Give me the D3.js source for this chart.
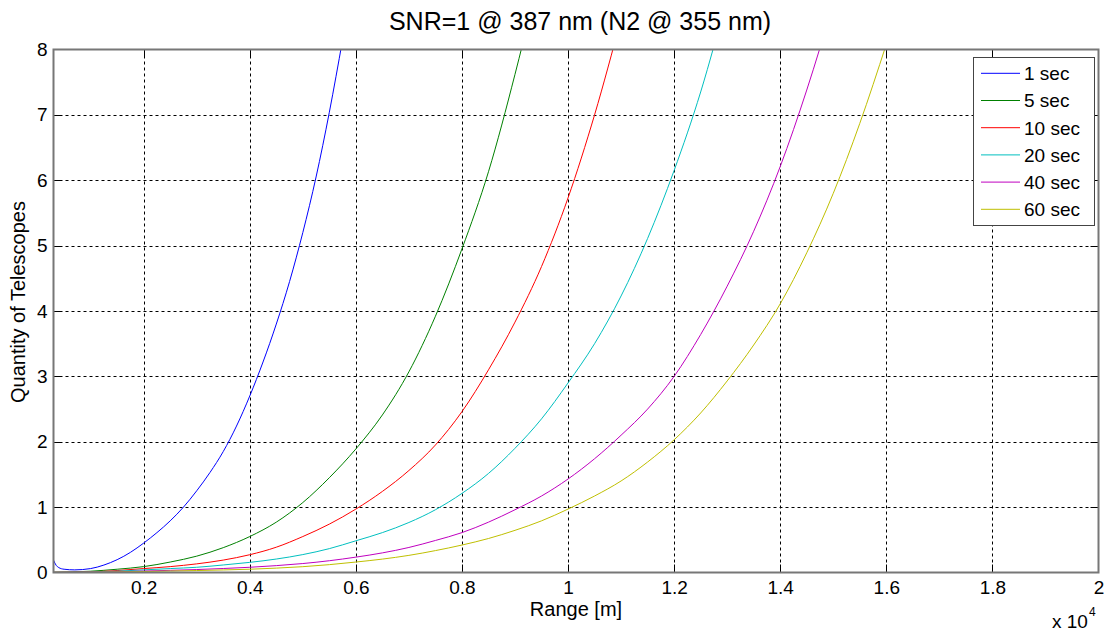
<!DOCTYPE html>
<html>
<head>
<meta charset="utf-8">
<script src="https://cdn.jsdelivr.net/npm/d3@7/dist/d3.min.js"></script>
<style>
  body { margin: 0; background: #fff; }
  text { font-family: "Liberation Sans", Arial, sans-serif; fill: #000; }
</style>
</head>
<body>
<svg width="1105" height="631"></svg>
<script>
// readings: [range in m, quantity of telescopes]
const sec1 = [[300, 0.19], [350, 0.11], [400, 0.075], [500, 0.05], [700, 0.04], [1000, 0.06],
  [1250, 0.114], [1500, 0.196], [1750, 0.308], [2000, 0.45], [2250, 0.61], [2500, 0.79],
  [2750, 1.0], [3000, 1.25], [3250, 1.53], [3500, 1.85], [3750, 2.24], [4000, 2.7],
  [4250, 3.22], [4500, 3.8], [4750, 4.45], [5000, 5.2], [5250, 6.05], [5500, 7.04],
  [5750, 8.15]];
const sec5 = [[300, 0.004], [1000, 0.02], [1500, 0.05], [2000, 0.09], [2500, 0.16],
  [3000, 0.25], [3500, 0.38], [4000, 0.55], [4500, 0.77], [5000, 1.07], [5500, 1.45],
  [6000, 1.89], [6500, 2.41], [7000, 3.07], [7500, 3.92], [8000, 4.95], [8500, 6.13],
  [9000, 7.62], [9300, 8.6]];
const sec10 = [[300, 0.003], [1000, 0.01], [1500, 0.03], [2000, 0.06], [2500, 0.09],
  [3000, 0.132], [3500, 0.19], [4000, 0.272], [4500, 0.387], [5000, 0.55], [5500, 0.74],
  [6000, 0.97], [6500, 1.24], [7000, 1.56], [7500, 1.95], [8000, 2.46], [8500, 3.1],
  [9000, 3.83], [9500, 4.68], [10000, 5.73], [10500, 7.0], [11000, 8.47]];
const sec20 = [[300, 0.002], [1000, 0.008], [1500, 0.02], [2000, 0.04], [2500, 0.06],
  [3000, 0.08], [3500, 0.115], [4000, 0.155], [4500, 0.206], [5000, 0.274], [5500, 0.365],
  [6000, 0.485], [6500, 0.61], [7000, 0.765], [7500, 0.96], [8000, 1.21], [8500, 1.515],
  [9000, 1.9], [9500, 2.35], [10000, 2.9], [10500, 3.5], [11000, 4.23], [11500, 5.11],
  [12000, 6.15], [12500, 7.35], [13000, 8.8]];
const sec40 = [[300, 0.001], [1000, 0.005], [1500, 0.012], [2000, 0.022], [2500, 0.033],
  [3000, 0.045], [3500, 0.061], [4000, 0.08], [4500, 0.105], [5000, 0.137], [5500, 0.18],
  [6000, 0.235], [6500, 0.3], [7000, 0.383], [7500, 0.49], [8000, 0.61], [8500, 0.77],
  [9000, 0.96], [9500, 1.17], [10000, 1.43], [10500, 1.74], [11000, 2.1], [11500, 2.5],
  [12000, 3.0], [12500, 3.64], [13000, 4.38], [13500, 5.22], [14000, 6.21], [14500, 7.38],
  [15000, 8.7]];
const sec60 = [[300, 0.001], [1000, 0.004], [1500, 0.009], [2000, 0.015], [2500, 0.022],
  [3000, 0.03], [3500, 0.039], [4000, 0.05], [4500, 0.067], [5000, 0.089], [5500, 0.12],
  [6000, 0.16], [6500, 0.205], [7000, 0.262], [7500, 0.335], [8000, 0.42], [8500, 0.52],
  [9000, 0.645], [9500, 0.79], [10000, 0.97], [10500, 1.17], [11000, 1.4], [11500, 1.69],
  [12000, 2.03], [12500, 2.44], [13000, 2.93], [13500, 3.48], [14000, 4.11], [14500, 4.89],
  [15000, 5.8], [15500, 6.87], [16000, 8.08]];

const seriesNames = ['1 sec', '5 sec', '10 sec', '20 sec', '40 sec', '60 sec'];
const seriesData = [sec1, sec5, sec10, sec20, sec40, sec60];
const seriesColors = ['#0000ff', '#008000', '#ff0000', '#00bfbf', '#bf00bf', '#bfbf00'];

const xTicks = [2000, 4000, 6000, 8000, 10000, 12000, 14000, 16000, 18000, 20000];
const yTicks = [0, 1, 2, 3, 4, 5, 6, 7, 8];

const margin = {left: 53.5, right: 1098.5, top: 49.5, bottom: 572.5};

const svg = d3.select('svg');
const x = d3.scaleLinear().domain([300, 20000]).range([margin.left, margin.right]);
const y = d3.scaleLinear().domain([0, 8]).range([margin.bottom, margin.top]);

svg.append('defs').append('clipPath').attr('id', 'plot')
  .append('rect')
  .attr('x', margin.left).attr('y', margin.top)
  .attr('width', margin.right - margin.left)
  .attr('height', margin.bottom - margin.top);

// dotted grid
const grid = svg.append('g').attr('stroke', '#000').attr('stroke-width', 1)
  .attr('stroke-dasharray', '3,3');
grid.selectAll('.gx').data(xTicks.filter(d => d < 20000)).enter()
  .append('line')
  .attr('x1', d => Math.round(x(d)) + 0.5).attr('x2', d => Math.round(x(d)) + 0.5)
  .attr('y1', margin.top).attr('y2', margin.bottom);
grid.selectAll('.gy').data(yTicks.filter(d => d > 0 && d < 8)).enter()
  .append('line')
  .attr('y1', d => Math.round(y(d)) + 0.5).attr('y2', d => Math.round(y(d)) + 0.5)
  .attr('x1', margin.left).attr('x2', margin.right);

// axes: labels outside, ticks inside on all four sides
const tickLen = 8;
const bottomAxis = d3.axisBottom(x).tickValues(xTicks).tickSize(0).tickPadding(8)
  .tickFormat(d => d / 10000);
const leftAxis = d3.axisLeft(y).tickValues(yTicks).tickSize(0).tickPadding(6)
  .tickFormat(d3.format('d'));

const gx = svg.append('g').attr('transform', `translate(0,${margin.bottom})`).call(bottomAxis);
const gy = svg.append('g').attr('transform', `translate(${margin.left},0)`).call(leftAxis);
[gx, gy].forEach((g) => {
  g.select('.domain').remove();
  g.selectAll('text').attr('font-size', 19)
    .attr('font-family', '"Liberation Sans", Arial, sans-serif').attr('fill', '#000');
});
gx.selectAll('text').attr('dy', '0.71em');

const ticks = svg.append('g').attr('stroke', '#000').attr('stroke-width', 1);
xTicks.filter(d => d < 20000).forEach((d) => {
  const px = Math.round(x(d)) + 0.5;
  ticks.append('line').attr('x1', px).attr('x2', px)
    .attr('y1', margin.bottom).attr('y2', margin.bottom - tickLen);
  ticks.append('line').attr('x1', px).attr('x2', px)
    .attr('y1', margin.top).attr('y2', margin.top + tickLen);
});
yTicks.filter(d => d > 0 && d < 8).forEach((d) => {
  const py = Math.round(y(d)) + 0.5;
  ticks.append('line').attr('y1', py).attr('y2', py)
    .attr('x1', margin.left).attr('x2', margin.left + tickLen);
  ticks.append('line').attr('y1', py).attr('y2', py)
    .attr('x1', margin.right).attr('x2', margin.right - tickLen);
});

// curves
const line = d3.line()
  .x(d => x(d[0]))
  .y(d => y(d[1]))
  .curve(d3.curveMonotoneX);

svg.append('g').attr('clip-path', 'url(#plot)')
  .selectAll('path')
  .data(seriesData)
  .enter()
  .append('path')
  .attr('d', d => line(d))
  .attr('fill', 'none')
  .attr('stroke', (d, i) => seriesColors[i])
  .attr('stroke-width', 1);

// axes box
svg.append('rect')
  .attr('x', margin.left).attr('y', margin.top)
  .attr('width', margin.right - margin.left)
  .attr('height', margin.bottom - margin.top)
  .attr('fill', 'none').attr('stroke', '#777').attr('stroke-width', 2);

// title and axis labels
svg.append('text').attr('x', 580).attr('y', 30).attr('text-anchor', 'middle')
  .attr('font-size', 25).text('SNR=1 @ 387 nm (N2 @ 355 nm)');
svg.append('text').attr('x', 576).attr('y', 616).attr('text-anchor', 'middle')
  .attr('font-size', 20).text('Range [m]');
svg.append('text').attr('transform', 'translate(25,302) rotate(-90)')
  .attr('text-anchor', 'middle').attr('font-size', 20).text('Quantity of Telescopes');

// exponent label
const expo = svg.append('text').attr('x', 1052).attr('y', 628).attr('font-size', 19);
expo.append('tspan').text('x 10');
expo.append('tspan').attr('dy', -12).attr('dx', 1).attr('font-size', 12).text('4');

// legend
const legend = svg.append('g');
legend.append('rect').attr('x', 973.5).attr('y', 57.5).attr('width', 121).attr('height', 168)
  .attr('fill', '#fff').attr('stroke', '#444').attr('stroke-width', 1);
const rows = legend.selectAll('.row').data(seriesNames).enter()
  .append('g')
  .attr('transform', (d, i) => `translate(0,${73.3 + i * 27.2})`);
rows.append('line').attr('x1', 981).attr('x2', 1020).attr('y1', 0).attr('y2', 0)
  .attr('stroke', (d, i) => seriesColors[i]).attr('stroke-width', 1);
rows.append('text').attr('x', 1024).attr('y', 0).attr('dy', '0.36em')
  .attr('font-size', 19).text(d => d);
</script>
</body>
</html>
